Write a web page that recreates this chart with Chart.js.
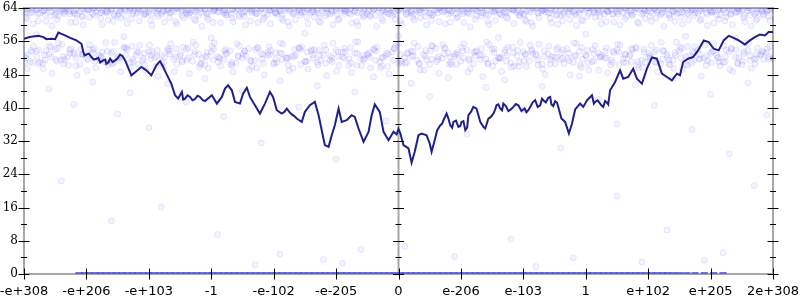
<!DOCTYPE html>
<html><head><meta charset="utf-8">
<script src="https://cdn.jsdelivr.net/npm/chart.js@4"></script>
<style>html,body{margin:0;padding:0;background:#fff}canvas{display:block}</style>
</head><body>
<canvas id="c" width="800" height="300"></canvas>
<script>
const xTickLabels = ['-e+308','-e+206','-e+103','-1','-e-102','-e-205','0','e-206','e-103','1','e+102','e+205','2e+308'];
const yMin = 0, yMax = 64, yStep = 8;

// running line (x in tick units, y in bits)
const lineX = [-6.00,-5.91,-5.77,-5.69,-5.64,-5.56,-5.50,-5.45,-5.37,-5.26,-5.16,-5.08,-5.05,-5.03,-5.00,-4.96,-4.92,-4.88,-4.84,-4.81,-4.78,-4.73,-4.70,-4.68,-4.65,-4.62,-4.58,-4.54,-4.50,-4.46,-4.42,-4.38,-4.28,-4.20,-4.12,-4.04,-3.96,-3.88,-3.82,-3.77,-3.72,-3.64,-3.58,-3.53,-3.50,-3.47,-3.45,-3.42,-3.38,-3.34,-3.30,-3.26,-3.22,-3.18,-3.14,-3.10,-2.99,-2.91,-2.83,-2.78,-2.73,-2.67,-2.62,-2.54,-2.49,-2.43,-2.38,-2.30,-2.22,-2.14,-2.06,-2.01,-1.95,-1.87,-1.83,-1.79,-1.75,-1.71,-1.67,-1.63,-1.59,-1.55,-1.50,-1.42,-1.34,-1.28,
-1.23,-1.18,-1.12,-1.07,-1.02,-0.96,-0.91,-0.83,-0.75,-0.70,-0.64,-0.56,-0.48,-0.43,-0.38,-0.30,-0.24,-0.16,-0.08,-0.03,0.00,0.03,0.08,0.16,0.21,0.26,0.32,0.37,0.45,0.50,0.53,0.58,
0.62,0.67,0.70,0.72,0.77,0.80,0.83,0.86,0.88,0.92,0.96,0.99,1.01,1.04,1.07,1.10,1.12,1.16,1.20,1.25,1.28,1.31,1.36,1.39,1.44,1.48,1.52,1.55,1.57,1.60,1.63,1.66,1.68,1.72,1.76,1.80,1.84,1.88,1.92,1.97,2.02,2.05,2.08,2.11,2.15,2.19,2.23,2.27,2.30,2.32,2.36,2.40,2.43,2.45,2.48,2.51,2.54,2.56,2.61,2.67,2.73,2.78,2.83,2.91,2.96,3.02,3.06,3.10,3.13,3.15,3.19,3.23,3.25,3.28,3.31,3.34,3.36,3.39,
3.47,3.55,3.60,3.68,3.76,3.82,3.90,3.98,4.06,4.14,4.22,4.30,4.38,4.46,4.51,4.56,4.64,4.72,4.80,4.89,4.97,5.05,5.13,5.21,5.29,5.37,5.45,5.55,5.63,5.71,5.79,5.87,5.93,6.00];
const lineY = [56.6,57.0,57.3,57.0,56.5,56.6,56.5,58.1,57.6,56.8,56.2,55.4,53.4,52.6,52.8,53.0,52.2,51.6,51.8,52.0,50.9,51.4,51.6,50.6,50.9,51.8,51.0,51.4,51.9,52.8,52.4,51.4,47.8,48.8,49.8,49.0,47.8,50.2,51.2,49.8,48.2,45.8,43.0,42.2,43.0,43.8,42.0,42.2,43.0,42.6,41.8,42.1,42.9,42.6,41.9,41.6,43.0,41.0,42.6,44.6,45.4,44.2,41.4,41.0,43.4,44.8,42.6,40.6,38.6,41.0,43.8,42.6,39.4,38.6,39.0,39.8,39.0,38.4,38.0,37.4,37.0,36.6,39.0,40.6,41.4,38.2,
34.6,31.0,30.6,33.4,35.8,39.8,36.6,37.0,38.2,37.8,35.0,31.8,34.2,38.2,40.8,39.0,34.2,32.2,34.2,33.6,34.9,33.8,31.0,30.2,26.8,29.4,33.4,33.8,33.4,31.4,29.4,32.2,
34.6,35.8,36.2,37.0,38.6,37.4,35.8,35.2,36.6,36.9,35.4,35.6,36.6,36.8,34.6,35.2,38.2,39.0,40.2,39.8,38.2,36.6,35.4,35.0,37.4,37.8,38.6,39.6,40.6,40.8,39.8,39.4,41.0,40.4,39.2,39.6,40.2,40.9,40.6,39.2,39.8,38.9,39.4,40.2,41.3,41.8,40.2,40.6,42.2,41.8,41.3,42.4,42.6,40.8,40.4,41.6,41.2,40.2,37.4,36.6,33.8,36.2,39.6,41.0,40.2,41.8,42.4,43.0,41.0,41.4,41.8,41.0,40.6,40.2,41.6,41.2,40.8,44.2,
46.2,49.0,47.0,47.4,49.4,47.0,45.8,49.4,52.1,51.8,48.2,47.4,46.6,48.2,47.8,51.0,51.8,52.2,53.8,56.2,55.8,54.2,53.8,56.2,57.3,56.8,56.2,55.2,56.2,57.0,57.6,57.4,58.2,58.2];

// scatter bands: y values sampled along x
const topA = [63.6,62.9,63.8,63.2,64.0,62.4,63.5,63.9,62.8,63.3,63.7,62.6,64.0,63.1,63.6,62.2,63.9,63.4,62.7,63.8,
63.0,64.0,62.5,63.6,63.2,63.9,62.9,63.5,62.3,63.7,64.0,63.1,62.8,63.6,63.4,62.6,63.9,63.0,63.7,62.4,
63.8,63.3,64.0,62.7,63.5,63.1,62.9,63.8,64.0,62.5,63.4,63.7,62.8,63.2,63.9,62.6,63.6,64.0,63.0,62.3,
63.5,63.8,62.9,63.3,64.0,62.7,63.6,63.1,62.5,63.9,63.4,62.8,63.7,64.0,62.4,63.2,63.6,62.9,63.8,63.0,
62.6,63.5,64.0,63.3,62.8,63.7,62.2,63.9,63.1,62.7,63.6,64.0,63.4,62.5,63.8,63.0,62.9,63.5,64.0,62.6,
63.3,63.9,62.4,63.7,63.2,62.8,64.0,63.5,62.7,63.8,63.1,62.3,63.6,63.9,62.9,63.4,64.0,62.6,63.7,63.2,63.8];
const topB = [61.4,60.2,62.7,60.8,59.7,62.1,63.3,60.5,62.4,59.9,61.8,63.0,60.0,61.1,62.2,61.5,60.3,63.2,60.9,62.6,
59.8,62.0,60.6,63.1,60.1,61.6,62.8,61.0,59.6,61.3,63.4,60.4,62.3,60.7,61.9,59.9,62.9,60.5,61.7,60.2,
62.5,61.0,59.7,61.2,63.1,60.3,61.8,60.6,62.7,60.0,61.4,63.2,60.4,59.8,62.2,62.0,59.6,60.9,62.6,61.3,
60.1,63.0,61.1,61.6,59.9,62.4,60.7,60.2,63.3,61.9,60.5,59.5,62.1,62.8,60.0,61.0,62.3,61.5,60.3,62.9,
60.8,59.7,61.7,63.1,60.4,60.1,62.5,61.2,59.8,60.9,62.7,61.8,60.2,63.2,60.6,59.9,62.0,62.2,60.3,61.4,
60.8,63.0,59.6,61.6,62.6,60.1,61.1,62.8,61.3,59.8,60.4,62.4,61.9,60.0,63.1,60.7,59.7,61.5,62.3,61.0];
const topC = [63.8,63.5,64.0,63.6,63.9,63.4,63.7,64.0,63.5,63.8,63.3,63.9,63.6,64.0,63.7,63.4,63.8,63.5,64.0,63.6,
63.9,63.3,63.7,64.0,63.5,63.8,63.6,63.9,63.4,64.0,63.7,63.5,63.8,64.0,63.6,63.3,63.9,63.7,63.5,64.0,
63.8,63.4,63.6,63.9,64.0,63.5,63.7,63.8,63.3,64.0,63.6,63.9,63.5,63.7,64.0,63.4,63.8,63.6,63.9,63.5,
64.0,63.7,63.3,63.8,63.6,64.0,63.5,63.9,63.7,63.4,64.0,63.8,63.6,63.5,63.9,64.0,63.7,63.3,63.8,63.6];
const topD = [63.1,63.9,62.6,63.4,64.0,62.9,63.7,63.2,62.5,63.8,63.5,64.0,62.8,63.3,63.9,62.7,63.6,64.0,63.0,62.4,
63.7,63.4,62.9,63.8,64.0,63.1,62.6,63.5,63.9,62.8,63.2,64.0,63.6,62.5,63.8,63.0,63.4,62.7,63.9,64.0,
62.9,63.3,63.7,62.6,63.5,64.0,63.1,62.8,63.8,63.4,62.5,63.9,63.6,64.0,62.7,63.2,63.7,62.9,63.5,63.8,
64.0,62.6,63.3,63.9,63.0,62.8,63.6,64.0,63.4,62.5,63.7,63.1,63.9,62.9,63.5,64.0,62.7,63.2,63.8,63.6,
62.4,63.0,64.0,63.7,62.8,63.4,63.9,62.6,63.3,63.8,64.0,63.1,62.9,63.6,63.5,62.5,64.0,63.2,63.7,62.8,
63.9,63.4,62.7,64.0,63.0,63.6,62.6,63.8,63.3,64.0,62.9,63.5,63.7,62.4,63.1,63.9,64.0,62.8,63.4,63.6,63.2];
const topE = [61.8,62.9,60.9,63.4,62.1,61.2,63.0,62.6,60.6,61.9,63.6,62.3,61.5,62.8,60.8,63.2,62.0,61.4,63.7,62.5,
61.0,62.7,63.3,61.7,60.7,62.2,63.5,61.3,62.9,61.9,60.5,63.1,62.4,61.6,63.8,62.0,60.9,62.6,61.2,63.4,
62.8,61.5,60.6,63.0,62.3,61.8,63.6,60.8,62.1,62.9,61.1,63.3,62.5,60.7,61.9,63.7,62.2,61.4,62.7,63.1,
60.9,62.4,61.7,63.5,62.0,61.0,62.8,63.2,60.6,61.6,62.6,63.8,61.3,62.1,60.8,63.0,62.5,61.8,63.4,62.3,
61.1,60.5,62.9,63.6,61.5,62.2,60.9,63.1,62.7,61.2,62.0,63.5,61.9,60.7,62.4,63.3,61.4,62.8,60.6,63.7,
62.1,61.6,63.0,62.5,60.8,61.8,63.4,62.2,61.0,62.9,63.2,61.3,60.9,62.6,63.8,61.7,62.3,61.1,63.1,62.0,61.5];
const topF = [62.8,63.6,64.0,62.3,63.1,63.9,62.6,63.4,63.8,62.1,63.7,64.0,62.9,63.2,62.5,63.9,63.5,62.7,64.0,63.0,
62.4,63.8,63.3,62.8,64.0,63.6,62.2,63.1,63.9,62.6,63.5,64.0,62.9,63.7,62.3,63.2,63.8,64.0,62.7,63.4,
63.0,62.5,63.9,64.0,62.8,63.6,63.1,62.4,63.7,63.3,64.0,62.6,63.9,62.9,63.5,62.2,64.0,63.2,63.8,62.7,
63.4,64.0,62.5,63.0,63.7,62.3,63.9,63.5,62.8,64.0,63.1,62.6,63.6,63.8,62.4,63.3,64.0,62.9,63.7,62.1,
63.2,63.9,62.7,64.0,63.5,62.5,63.0,63.8,62.3,63.6,64.0,62.8,63.4,63.1,62.6,63.9,64.0,62.4,63.7,63.3,
62.9,63.5,64.0,62.2,63.8,63.0,62.7,63.6,64.0,62.5,63.2,63.9,62.8,63.4,64.0,62.3,63.7,63.1,62.6,63.5,63.9];
const midA = [52.4,51.1,53.6,50.7,52.9,54.0,51.5,52.2,53.3,50.4,51.8,53.9,52.6,51.0,53.1,52.0,54.3,50.9,52.7,51.4,
53.5,52.1,50.6,53.8,51.7,52.5,54.1,51.2,52.8,50.3,53.4,52.3,51.6,53.7,50.8,52.0,54.2,51.3,53.0,52.6,
50.5,53.2,51.9,52.4,54.4,51.1,53.6,50.9,52.7,51.5,53.9,52.2,50.2,53.1,51.8,52.9,54.0,51.0,52.5,53.4,
50.7,52.1,53.7,51.4,52.8,50.4,54.3,51.9,53.2,52.3,51.2,53.8,50.6,52.6,51.7,54.1,52.0,53.3,50.8,52.4,
53.5,51.3,52.9,50.5,53.0,52.2,51.6,54.2,50.9,53.6,52.7,51.1,53.2,52.0,50.3,53.9,51.8,52.5,54.4,51.4,
52.1,53.4,50.6,52.8,51.5,53.7,52.3,50.8,54.0,51.9,53.1,52.6,51.0,53.5,52.2,50.4,53.8,51.7,52.9,53.3,52.0];
const midB = [49.4,54.8,50.9,53.7,48.3,55.5,51.6,54.2,47.8,52.9,55.2,49.6,53.4,50.3,55.7,48.7,54.0,51.1,55.0,49.0,
53.6,47.6,52.2,55.4,50.5,54.6,48.2,55.1,51.9,49.5,55.6,50.1,53.1,48.6,54.9,52.5,49.8,54.4,47.9,53.8,
50.9,55.3,48.9,52.7,54.7,49.3,54.0,51.4,47.7,55.5,50.2,53.5,48.5,55.8,51.8,49.6,54.6,52.0,48.1,55.0,
50.7,53.2,55.6,49.1,51.5,54.8,48.3,54.3,50.4,52.8,55.4,49.4,53.7,47.5,55.2,51.2,48.7,54.5,50.0,55.7,
49.9,53.0,55.3,48.0,52.3,54.5,50.6,47.9,55.5,51.7,49.0,54.9,52.6,48.4,53.3,55.1,50.8,54.1,49.7,51.0,
55.0,48.6,53.6,50.3,55.8,49.2,52.4,54.7,47.6,51.3,55.4,50.1,53.9,48.8,52.1,55.6,49.5,54.4,51.6,54.8];
const midC = [51.9,53.4,50.6,52.7,54.6,51.2,52.3,53.9,50.1,52.9,51.6,54.2,52.0,50.8,53.5,51.4,52.6,54.8,50.4,53.1,
51.8,52.4,49.8,53.7,52.2,51.0,54.4,52.8,50.5,53.3,51.5,52.1,54.0,50.9,52.5,53.6,51.3,49.6,52.9,54.7,
51.7,53.0,50.3,52.3,54.1,51.1,52.7,53.8,50.7,52.0,53.4,51.9,54.5,50.2,52.6,53.2,51.4,52.1,49.9,54.3,
52.8,51.0,53.5,50.6,52.4,54.9,51.6,53.0,52.2,50.4,53.7,51.8,52.5,54.2,50.8,53.3,52.0,51.2,54.6,50.0,
52.9,53.6,51.5,52.3,50.5,54.0,51.9,53.1,52.6,49.7,53.8,51.3,52.2,54.4,50.9,53.4,52.7,51.1,50.3,54.1,
52.4,53.9,51.7,50.6,53.2,52.0,54.7,51.4,52.8,50.2,53.5,52.1,51.0,54.3,50.7,53.0,52.5,51.8,53.6,52.3,51.6];
const midD = [50.9,53.8,52.1,49.4,54.9,51.6,55.3,50.2,52.8,54.1,48.9,53.2,51.3,55.7,50.6,52.4,54.6,49.7,53.5,51.9,
55.1,50.0,52.6,54.3,48.7,53.0,51.5,55.8,49.9,52.2,54.8,51.0,53.6,50.4,55.4,52.9,49.2,54.0,51.7,53.3,
50.8,55.6,52.0,49.5,54.4,51.2,53.9,50.3,55.0,52.5,48.8,53.4,51.8,55.9,50.1,52.7,54.2,49.6,53.1,51.4,
55.5,50.7,52.3,54.7,49.1,53.7,51.1,55.2,50.5,52.9,54.5,48.6,53.3,51.6,55.8,50.0,52.1,54.0,49.8,53.8,
51.3,55.0,52.6,49.3,54.8,50.6,53.2,51.9,55.6,50.2,52.4,54.1,49.0,53.6,51.5,55.3,50.9,52.8,54.4,49.7,
53.0,51.0,55.7,52.2,49.4,54.6,50.4,53.5,51.7,55.1,50.8,52.0,54.9,49.2,53.9,51.2,55.4,50.5,52.7,54.2,51.8];
const midE = [52.7,50.8,53.9,51.5,52.2,54.3,50.5,53.1,51.9,52.8,54.0,51.2,52.4,53.6,50.9,52.0,54.4,51.7,53.3,50.3,
52.6,53.8,51.0,52.9,54.2,51.4,52.1,53.5,50.6,52.5,54.1,51.8,53.0,50.2,52.3,53.7,51.3,54.5,50.7,52.8,
53.2,51.6,52.0,54.0,50.4,53.4,51.9,52.7,53.9,51.1,52.4,54.3,50.8,53.1,51.5,52.2,53.6,50.1,52.9,54.2,
51.2,53.0,52.5,50.6,53.8,51.7,52.3,54.4,50.9,53.3,52.0,51.4,53.5,52.7,50.5,54.1,51.8,52.6,53.2,51.0,
52.8,54.0,50.3,53.7,51.6,52.1,53.9,51.3,52.4,54.5,50.7,53.0,52.2,51.9,53.6,50.4,52.9,54.2,51.1,53.4,
52.0,50.8,53.8,51.5,52.6,54.3,50.2,53.1,51.8,52.5,53.7,51.0,52.3,54.1,50.6,53.5,51.4,52.8,53.3,51.7,52.1];

// scattered outliers
const sparseX = [-5.6,-5.2,-4.9,-4.5,-4.3,-4.0,-3.7,-3.4,-3.1,-2.8,-2.5,-2.2,-1.9,-1.6,-1.3,-1.0,-0.7,-0.4,-0.2,0.2,0.5,0.8,1.1,1.4,1.7,2.0,2.3,2.6,2.9,3.2,3.5,3.8,4.1,4.4,4.7,5.0,5.3,5.6,5.9,
-5.4,-3.8,-2.9,-1.9,-1.2,-0.6,0.1,0.9,1.8,2.8,3.5,4.3,5.2,5.7,-4.6,-0.9,2.2,3.9,4.9,-2.3,
-5.8,-4.4,-3.0,-1.5,0.0,1.6,3.0,4.6,5.4];
const sparseY = [44.5,40.8,46.2,38.5,43.6,35.2,45.8,41.3,47.0,37.9,44.1,31.5,46.5,40.2,45.3,27.6,43.8,47.4,36.8,45.9,42.7,47.2,33.6,44.9,46.7,39.4,45.1,30.3,47.6,42.0,36.1,45.6,40.6,47.1,34.8,43.2,28.9,46.0,38.2,
22.4,16.1,9.5,4.8,3.5,5.9,6.7,4.2,8.4,3.9,18.7,10.6,5.1,21.3,12.8,2.6,1.8,2.9,3.3,2.2,
57.6,57.1,56.8,57.9,57.3,56.9,57.7,57.2,56.7];

// points sitting at zero
const zeroX = [-5.12,-5.03,-4.95,-4.86,-4.78,-4.69,-4.6,-4.52,-4.43,-4.35,-4.26,-4.18,-4.09,-4.0,-3.92,-3.83,-3.75,-3.66,-3.58,-3.49,-3.4,-3.32,-3.23,-3.15,-3.06,-2.98,-2.89,-2.8,-2.72,-2.63,-2.55,-2.46,-2.38,-2.29,-2.2,-2.12,-2.03,-1.95,-1.86,-1.78,-1.69,-1.6,-1.52,-1.43,-1.35,-1.26,-1.18,-1.09,-1.0,-0.92,-0.83,-0.75,-0.66,-0.58,-0.49,-0.4,-0.32,-0.23,-0.15,-0.06,0.03,0.11,0.2,0.28,0.37,0.45,0.54,0.63,0.71,0.8,0.88,0.97,1.05,1.14,1.23,1.31,1.4,1.48,1.57,1.65,1.74,1.83,1.91,2.0,2.08,2.17,2.25,2.34,2.43,2.51,2.6,2.68,2.77,2.85,2.94,3.03,3.11,3.2,3.28,3.37,3.45,3.54,3.63,3.71,3.8,3.88,3.97,4.05,4.14,4.23,4.31,4.4,4.5,4.62,4.75,4.9,5.05,5.2];
const zeroY = 0;

function row(ys, x0, step) { return ys.map((v, i) => ({x: x0 + i * step, y: v})); }
function pairs(xs, ys) { return xs.map((v, i) => ({x: v, y: Array.isArray(ys) ? ys[i] : ys})); }

const dotStyle = {pointRadius: 3, pointBackgroundColor: 'rgba(0,0,255,0.045)', pointBorderColor: 'rgba(0,0,255,0.09)', pointBorderWidth: 1};

const frame = {
  id: 'frame',
  beforeDatasetsDraw(chart) {
    const {ctx, chartArea: a, scales: {x}} = chart;
    ctx.save();
    ctx.strokeStyle = '#a8a8a8'; ctx.lineWidth = 2;
    ctx.strokeRect(a.left, a.top, a.right - a.left, a.bottom - a.top);
    const cx = x.getPixelForValue(0);
    ctx.beginPath(); ctx.moveTo(cx, a.top); ctx.lineTo(cx, a.bottom); ctx.stroke();
    ctx.restore();
  },
  afterDatasetsDraw(chart) {
    const {ctx, chartArea: a, scales: {x, y}} = chart;
    ctx.save();
    ctx.strokeStyle = '#000'; ctx.lineWidth = 1;
    ctx.beginPath();
    const cols = [a.left, x.getPixelForValue(0), a.right];
    for (let v = yMin; v <= yMax; v += yStep / 2) {
      const py = Math.round(y.getPixelForValue(v)) + 0.5;
      const len = (v % yStep === 0) ? 5.5 : 3;
      cols.forEach(cx => { ctx.moveTo(cx - len, py); ctx.lineTo(cx + len, py); });
    }
    for (let i = 0; i < xTickLabels.length; i++) {
      const px = Math.round(x.getPixelForValue(i - 6)) + 0.5;
      ctx.moveTo(px, a.bottom - 5.5); ctx.lineTo(px, a.bottom + 5.5);
    }
    ctx.stroke();
    ctx.restore();
  }
};

const bands = [[topA, -6, 0.1], [topB, -5.95, 0.1], [topC, -5.95, 0.15], [topD, -5.98, 0.1], [topE, -5.97, 0.1], [topF, -5.96, 0.1],
               [midA, -6, 0.1], [midB, -5.95, 0.1], [midC, -5.97, 0.1], [midD, -5.99, 0.1], [midE, -5.965, 0.1]];

new Chart(document.getElementById('c'), {
  type: 'scatter',
  data: {
    datasets: [
      {type: 'line', data: pairs(lineX, lineY), borderColor: '#20208a', borderWidth: 2, pointRadius: 0, tension: 0, fill: false},
      {data: pairs(zeroX, zeroY), pointStyle: 'line', pointRadius: 3.6, pointBorderWidth: 4, pointBorderColor: 'rgba(80,80,220,0.8)'},
      Object.assign({data: pairs(sparseX, sparseY)}, dotStyle)
    ].concat(bands.map(b => Object.assign({data: row(b[0], b[1], b[2])}, dotStyle)))
  },
  options: {
    responsive: false, animation: false,
    layout: {padding: {top: 7, right: 27, left: 0, bottom: 0}},
    plugins: {legend: {display: false}, tooltip: {enabled: false}},
    scales: {
      x: {
        type: 'linear', min: -6, max: 6,
        ticks: {stepSize: 1, autoSkip: false, maxRotation: 0, minRotation: 0, padding: 11, color: '#000',
          font: {family: 'DejaVu Sans', size: 13, lineHeight: 1}, callback: v => xTickLabels[Math.round(v) + 6]},
        grid: {display: false, drawTicks: false}, border: {display: false},
        afterFit: s => { s.height = 26; s.paddingLeft = 0; s.paddingRight = 0; }
      },
      y: {
        min: yMin, max: yMax,
        ticks: {stepSize: yStep, padding: 6, color: '#000', font: {family: 'DejaVu Serif', size: 12, lineHeight: 1}},
        grid: {display: false, drawTicks: false}, border: {display: false},
        afterFit: s => { s.width = 24; s.paddingTop = 0; s.paddingBottom = 0; }
      }
    }
  },
  plugins: [frame]
});
</script>
</body></html>
